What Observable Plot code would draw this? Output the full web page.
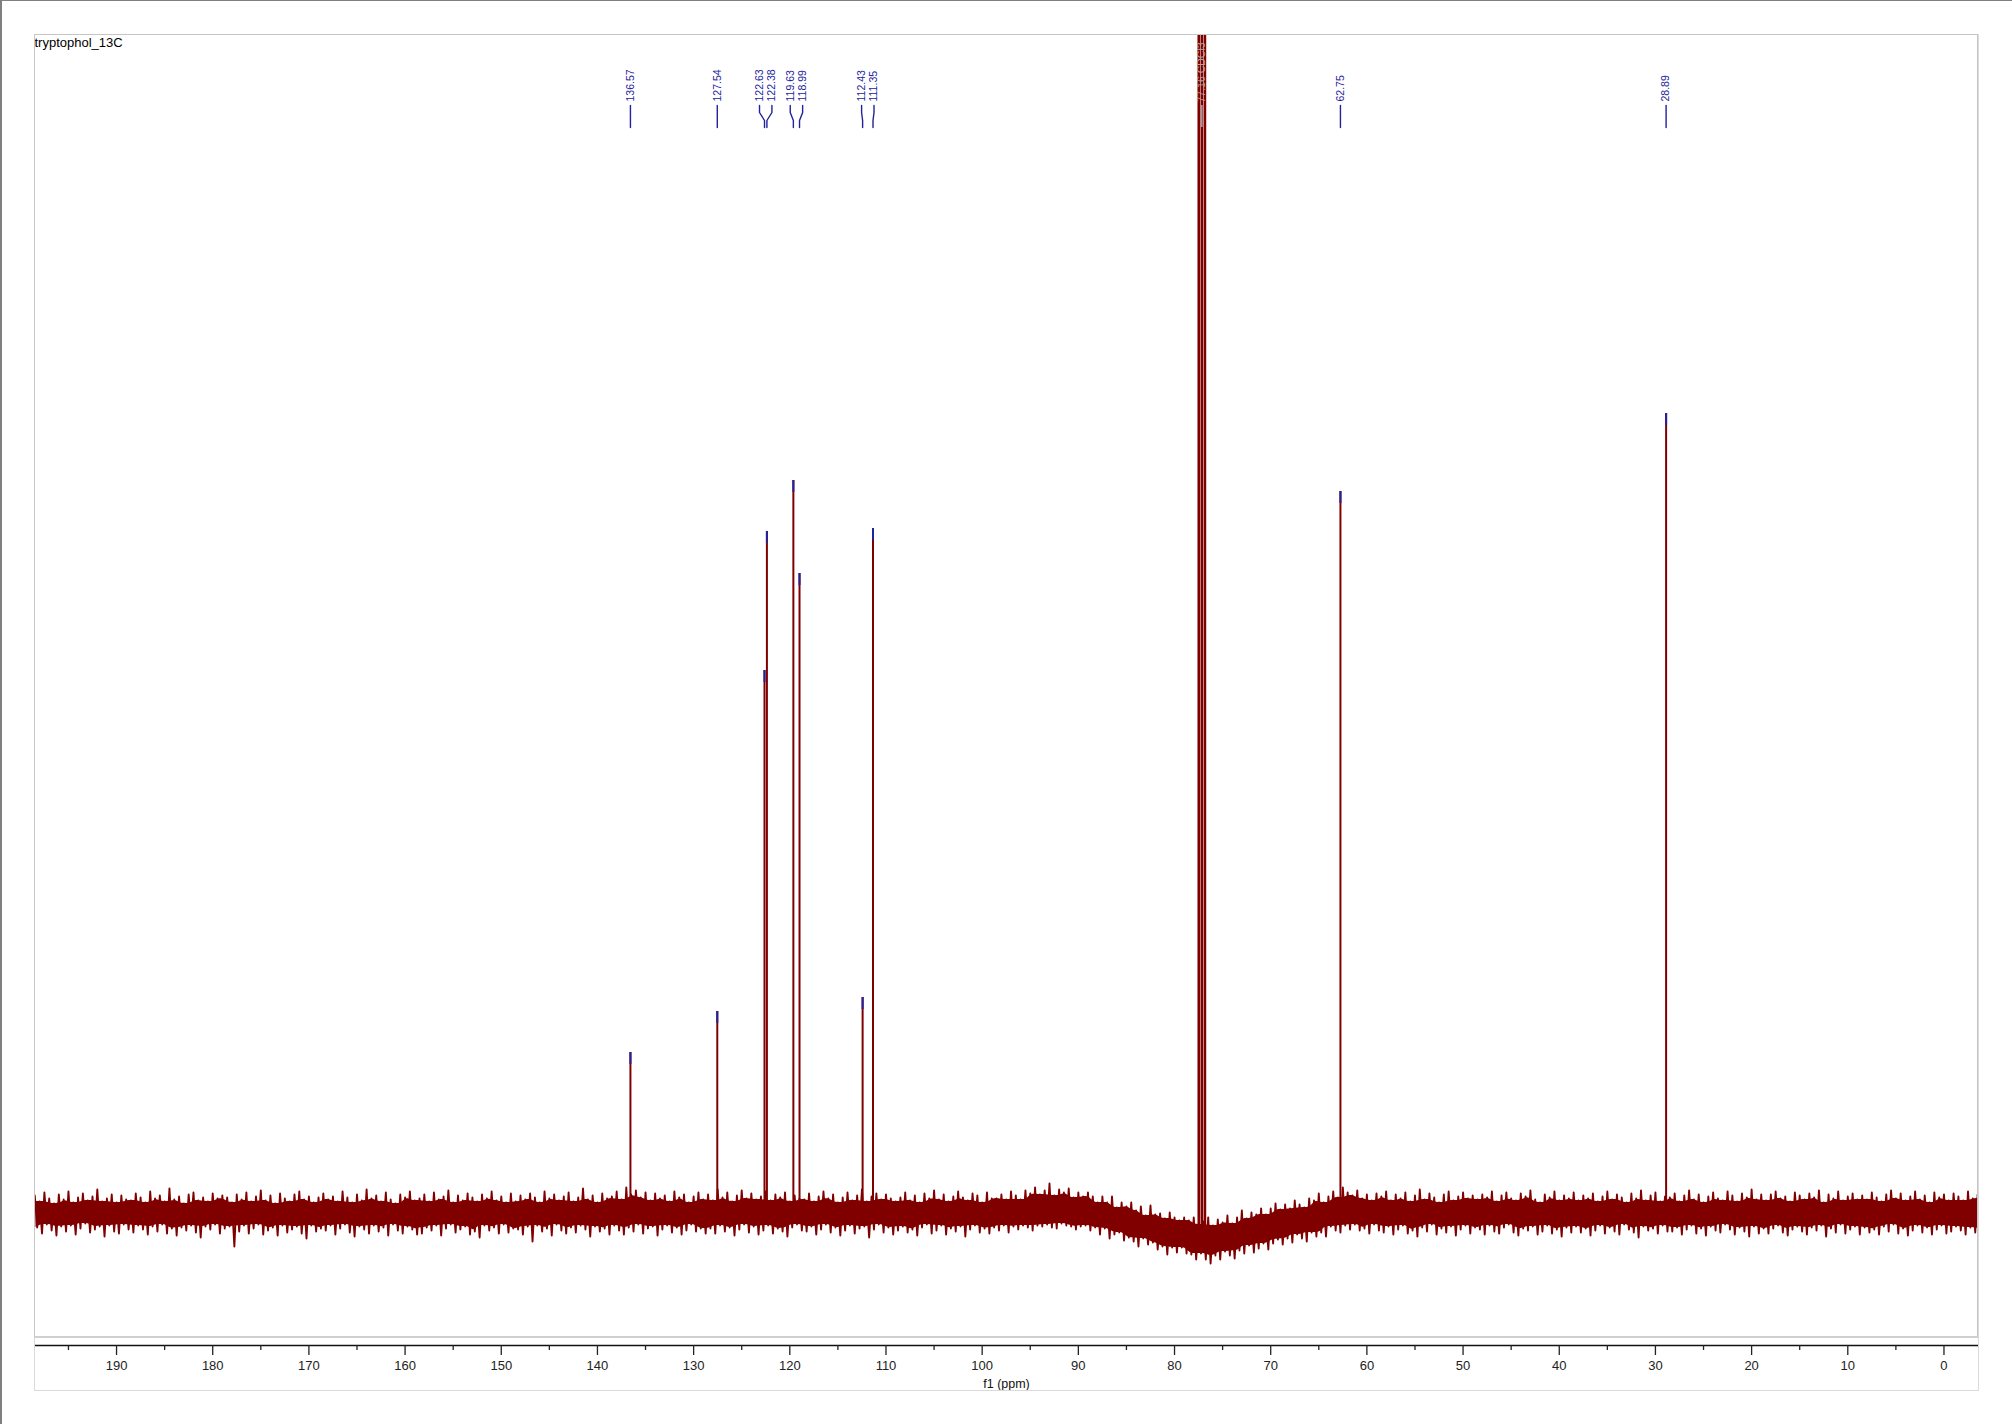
<!DOCTYPE html>
<html><head><meta charset="utf-8">
<script src="https://cdn.jsdelivr.net/npm/d3@7"></script>
<script src="https://cdn.jsdelivr.net/npm/@observablehq/plot@0.6"></script>
<style>
html,body{margin:0;padding:0;background:#fff;}
#wrap{position:relative;width:2012px;height:1424px;overflow:hidden;background:#fff;}
#wrap svg{display:block;}
.ov{position:absolute;pointer-events:none;box-sizing:border-box;}
</style></head><body>
<div id="wrap"></div>
<script>
// ---------------- data ----------------
const title = "tryptophol_13C";
const xLabel = "f1 (ppm)";
const xDomain = [198.53, -3.59];
const yDomain = [-132, 1179];
const majorTicks = [190,180,170,160,150,140,130,120,110,100,90,80,70,60,50,40,30,20,10,0];
const minorTicks = [195,185,175,165,155,145,135,125,115,105,95,85,75,65,55,45,35,25,15,5];

const peakPpm    = [136.57, 127.54, 122.63, 122.38, 119.63, 118.99, 112.43, 111.35, 62.75, 28.89];
const peakHeight = [161, 202, 543, 682, 733, 640, 216, 685, 722, 800];
const peakBase   = [-8, -8, -8, -8, -8, -8, -8, -8, -6, -8];
const peakLabel  = ["136.57","127.54","122.63","122.38","119.63","118.99","112.43","111.35","62.75","28.89"];

const solventPpm = [77.48, 77.16, 76.84];
const solventHeight = [1600, 1600, 1600];
const solventBase = [-38, -40, -38];
const solventLabel = "77.16 CDCl3";

// baseline noise envelope, sampled every 0.5 ppm from 198.5 ppm down to -3.5 ppm
const noiseStart = 198.5, noiseStep = 0.5;
const noiseHi = [
18,12,21,15,10,19,14,22,11,16,20,13,17,24,12,15,19,11,18,14,
13,20,16,11,22,15,18,12,25,14,17,10,19,21,13,16,12,20,15,18,
16,11,19,14,21,12,17,23,13,18,10,20,15,12,19,22,14,17,11,16,
20,14,17,12,22,16,11,19,13,24,15,18,12,21,14,10,19,16,22,13,
15,19,12,21,14,17,23,11,18,13,20,16,12,19,15,22,13,17,11,20,
12,18,14,20,16,11,22,15,19,13,17,21,12,16,25,14,18,11,20,15,
17,22,14,26,19,23,16,21,13,20,15,18,12,22,16,19,11,17,21,14,
19,13,24,16,21,12,18,23,15,20,14,17,22,13,19,16,21,12,18,15,
14,20,12,17,22,15,19,11,16,21,13,18,24,12,17,20,14,19,15,12,
16,21,13,18,11,20,15,23,14,19,12,17,22,16,13,20,18,11,21,15,
15,19,14,22,18,14,23,20,26,19,23,30,18,24,21,25,16,21,17,21,
17,11,17,11,17,6,11,7,11,3,7,-2,8,-1,0,-5,1,-4,-7,-4,
-7,-4,-11,-8,-4,-12,-6,-9,-2,-10,-4,3,-5,1,-1,5,-1,5,10,4,
9,5,13,9,6,15,13,20,11,17,22,16,26,21,18,23,15,19,13,20,
17,22,13,19,15,21,12,18,24,14,20,16,11,19,22,13,17,21,15,18,
14,19,16,22,12,18,21,15,13,20,17,23,14,11,19,16,22,13,18,15,
21,13,18,15,20,12,17,22,14,19,16,11,20,15,23,13,18,21,12,17,
16,20,12,18,23,14,19,11,17,21,15,13,22,18,12,20,16,24,14,19,
13,19,22,15,17,12,21,18,14,20,16,23,11,19,15,22,13,17,20,14,
18,14,21,16,12,19,23,15,20,13,17,22,14,18,11,21,16,19,13,20,
17,13,22,15,19];
const noiseLo = [
-14,-20,-11,-17,-22,-13,-18,-12,-21,-15,-10,-19,-16,-13,-23,-12,-18,-20,-11,-16,
-19,-12,-16,-21,-13,-18,-11,-20,-15,-22,-14,-17,-12,-19,-24,-13,-16,-11,-20,-15,
-13,-33,-18,-12,-20,-15,-11,-21,-17,-14,-22,-12,-19,-16,-13,-20,-25,-12,-18,-15,
-17,-12,-21,-15,-11,-19,-23,-13,-16,-20,-12,-18,-14,-22,-11,-17,-20,-13,-16,-21,
-20,-14,-17,-12,-22,-15,-11,-19,-16,-13,-21,-18,-24,-12,-17,-14,-20,-11,-19,-15,
-16,-21,-13,-28,-12,-18,-15,-22,-11,-17,-20,-14,-19,-12,-16,-23,-13,-18,-15,-21,
-12,-17,-21,-14,-18,-11,-20,-15,-13,-22,-16,-12,-19,-14,-21,-17,-11,-18,-15,-20,
-15,-20,-12,-18,-14,-22,-16,-11,-19,-13,-21,-17,-12,-20,-15,-18,-23,-14,-11,-17,
-18,-13,-21,-16,-11,-19,-14,-22,-17,-12,-20,-15,-13,-24,-16,-11,-19,-14,-21,-17,
-13,-19,-16,-22,-14,-11,-20,-17,-12,-21,-15,-18,-13,-23,-16,-12,-19,-15,-20,-14,
-17,-12,-19,-13,-16,-12,-14,-17,-12,-13,-11,-14,-15,-10,-12,-13,-16,-13,-12,-17,
-14,-21,-15,-25,-21,-19,-27,-24,-28,-33,-25,-31,-29,-36,-33,-41,-34,-39,-34,-40,
-41,-46,-40,-46,-50,-42,-46,-38,-42,-45,-37,-40,-32,-39,-35,-30,-36,-30,-26,-31,
-25,-29,-21,-25,-28,-19,-23,-19,-23,-13,-17,-19,-12,-16,-11,-17,-15,-20,-11,-17,
-19,-13,-21,-16,-12,-20,-17,-23,-14,-18,-11,-21,-15,-19,-13,-22,-16,-12,-20,-14,
-16,-21,-12,-18,-20,-14,-11,-19,-22,-15,-17,-13,-21,-18,-12,-20,-16,-23,-14,-19,
-13,-19,-15,-22,-17,-12,-20,-14,-18,-21,-11,-16,-19,-24,-13,-17,-15,-20,-12,-18,
-18,-14,-21,-16,-12,-20,-15,-22,-13,-17,-19,-11,-16,-21,-14,-18,-23,-13,-20,-15,
-20,-15,-12,-19,-22,-16,-13,-18,-21,-14,-17,-12,-23,-15,-19,-11,-20,-16,-13,-21,
-14,-19,-16,-21,-13,-18,-11,-20,-15,-22,-17,-12,-19,-14,-21,-16,-12,-20,-18,-13,
-17,-21,-14,-19,-15];

// ---------------- layout / style ----------------
const W = 2012, H = 1424;
const mL = 34, mR = 34, mT = 34, mB = 79;
const red = "#800000", blue = "#22229c";
const font = "'Liberation Sans', Arial, Helvetica, sans-serif";

const xS = Plot.scale({x: {domain: xDomain, range: [mL, W - mR]}});
const yS = Plot.scale({y: {domain: yDomain, range: [H - mB, mT]}});

// noise trace: alternate between the upper and lower extreme of each sample
const n = Math.min(noiseHi.length, noiseLo.length);
const trace = d3.range(n).flatMap(i => [
  {ppm: noiseStart - i * noiseStep, v: noiseHi[i]},
  {ppm: noiseStart - i * noiseStep - noiseStep / 2, v: noiseLo[i]}
]);
// dense core of the noise band: local inner envelope of the extremes
const core = d3.range(n).map(i => {
  const js = [i - 1, i, i + 1].filter(j => j >= 0 && j < n);
  return {ppm: noiseStart - i * noiseStep - noiseStep / 4,
          hi: d3.min(js, j => noiseHi[j]), lo: d3.max(js, j => noiseLo[j])};
});

const peaks = peakPpm.map((p, i) => ({id: i, ppm: p, h: peakHeight[i], b: peakBase[i], label: peakLabel[i], px: xS.apply(p)}));
const solvent = solventPpm.map((p, i) => ({ppm: p, h: solventHeight[i], b: solventBase[i]}));

// spread labels of close peaks
const gap = 12.4;
const sorted = [...peaks].sort((a, b) => a.px - b.px);
const clusters = [];
for (const p of sorted) {
  const last = clusters[clusters.length - 1];
  if (last && p.px - last[last.length - 1].px < gap) last.push(p); else clusters.push([p]);
}
for (const c of clusters) {
  const mean = d3.mean(c, d => d.px);
  c.forEach((d, i) => { d.lx = mean + (i - (c.length - 1) / 2) * gap; d.lppm = xS.invert(d.lx); });
}
const yTop = yS.invert(mT + 71), yK1 = yS.invert(mT + 78), yK2 = yS.invert(mT + 86), yBot = yS.invert(mT + 93);
const conn = peaks.flatMap(d => [
  {id: d.id, x: d.lppm, y: yTop},
  {id: d.id, x: d.lppm, y: yK1},
  {id: d.id, x: d.ppm, y: yK2},
  {id: d.id, x: d.ppm, y: yBot}
]);

const chart = Plot.plot({
  width: W, height: H,
  marginLeft: mL, marginRight: mR, marginTop: mT, marginBottom: mB,
  style: {fontFamily: font, fontSize: "12.5px", background: "transparent", overflow: "visible"},
  x: {domain: xDomain, label: null},
  y: {domain: yDomain, axis: null},
  marks: [
    Plot.areaY(core, {x: "ppm", y1: "lo", y2: "hi", fill: red, curve: "basis", clip: true}),
    Plot.line(trace, {x: "ppm", y: "v", stroke: red, strokeWidth: 1.9, clip: true}),
    Plot.ruleX(peaks, {x: "ppm", y1: "b", y2: "h", stroke: red, strokeWidth: 2}),
    Plot.ruleX(peaks, {x: "ppm", y1: d => d.h - 12, y2: "h", stroke: blue, strokeWidth: 2}),
    Plot.ruleX(solvent, {x: "ppm", y1: "b", y2: "h", stroke: red, strokeWidth: 2.6, clip: true}),
    Plot.line(conn, {x: "x", y: "y", z: "id", stroke: blue, strokeWidth: 1.4}),
    Plot.text(peaks, {x: "lppm", text: "label", frameAnchor: "top", dy: 67, rotate: -90,
      textAnchor: "start", lineAnchor: "middle", fill: blue, fontSize: 10.5}),
    Plot.ruleX([solventPpm[1]], {y1: yTop, y2: yBot, stroke: "#b0b0b0", strokeWidth: 1.4}),
    Plot.text([solventLabel], {x: solventPpm[1], text: d => d, frameAnchor: "top", dy: 68, rotate: -90,
      textAnchor: "start", lineAnchor: "middle", fill: "#a8a8a8", fontSize: 10.5}),
    Plot.ruleY([yDomain[0]], {stroke: "#111", strokeWidth: 1.6}),
    Plot.axisX(majorTicks, {anchor: "bottom", tickSize: 10, tickPadding: 5, fontSize: 13,
      stroke: "#222", strokeWidth: 1.3, color: "#222", label: null, tickFormat: d => String(d)}),
    Plot.axisX(minorTicks, {anchor: "bottom", tickSize: 5, stroke: "#222", strokeWidth: 1.3,
      label: null, tickFormat: () => ""}),
    Plot.text([title], {text: d => d, frameAnchor: "top-left", dy: 3.5, lineAnchor: "top",
      textAnchor: "start", fontSize: 13, fill: "#000"}),
    Plot.text([xLabel], {text: d => d, frameAnchor: "bottom", dy: 38, lineAnchor: "middle",
      fontSize: 12.5, fill: "#111"})
  ]
});

const wrap = document.getElementById("wrap");
wrap.appendChild(chart);

function box(css) {
  const d = document.createElement("div");
  d.className = "ov";
  Object.assign(d.style, css);
  wrap.appendChild(d);
}
// outer frame including axis area
box({left: "34px", top: "34px", width: "1945px", height: "1357px", border: "1px solid #dadada"});
// plot area frame
box({left: "34px", top: "34px", width: "1944px", height: "1304px", border: "1px solid #c6c6c6", borderBottom: "2px solid #d0d0d0"});
// window border
box({left: "0px", top: "0px", width: "2012px", height: "1424px", borderLeft: "2px solid #7f7f7f", borderTop: "1px solid #7f7f7f"});
</script>
</body></html>
